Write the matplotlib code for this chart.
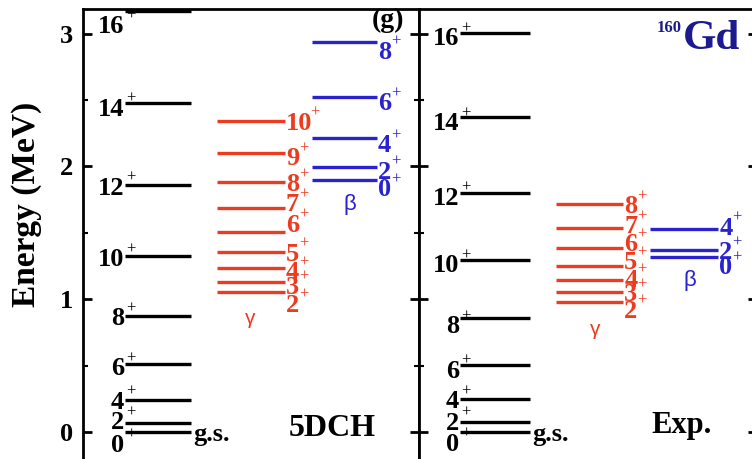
import matplotlib.pyplot as plt
from matplotlib.ticker import MultipleLocator

# level energies (MeV) for 160Gd: 5DCH calculation and experiment
gsb_spins = [0, 2, 4, 6, 8, 10, 12, 14, 16]
calc_gsb = [0.0, 0.071, 0.241, 0.51, 0.87, 1.322, 1.862, 2.48, 3.173]
exp_gsb = [0.0, 0.075, 0.245, 0.505, 0.862, 1.294, 1.80, 2.37, 3.003]

calc_gamma_spins = [2, 3, 4, 5, 6, 7, 8, 9, 10]
calc_gamma = [1.055, 1.131, 1.234, 1.357, 1.508, 1.684, 1.882, 2.098, 2.344]
exp_gamma_spins = [2, 3, 4, 5, 6, 7, 8]
exp_gamma = [0.98, 1.051, 1.146, 1.247, 1.382, 1.533, 1.716]

calc_beta_spins = [0, 2, 4, 6, 8]
calc_beta = [1.897, 1.997, 2.211, 2.52, 2.94]
exp_beta_spins = [0, 2, 4]
exp_beta = [1.315, 1.37, 1.528]

# vertical shift of each spin label (pixels) so crowded labels don't collide
calc_gsb_shift = [-11, 2, 0, -2, 0, -1, -1, -4, -13]
exp_gsb_shift = [-10, 1, 0, -4, -7, -3, -3, -4, -3]
calc_gamma_shift = [-11, -3, -2, 0, 9, 6, 0, -3, 0]
exp_gamma_shift = [-7, 0, 2, 6, 6, 4, 0]
calc_beta_shift = [-7, -3, -5, -4, -8]
exp_beta_shift = [-8, 0, 3.5]

RED = '#ec3b1f'
BLUE = '#2a22cf'
NAVY = '#1c1a8e'
PX = 0.72          # points per pixel at dpi 100
NUM_FS = 19
PLUS_FS = 12

plt.rcParams['font.family'] = 'Liberation Serif'
plt.rcParams['font.weight'] = 'bold'

W, H = 752, 459
fig = plt.figure(figsize=(W / 100, H / 100), dpi=100)
ax_calc = fig.add_axes([83 / W, 0.5 / H, 336 / W, 449.5 / H])
ax_exp = fig.add_axes([419 / W, 0.5 / H, 338 / W, 449.5 / H])

for ax in (ax_calc, ax_exp):
    ax.set_xlim(0, 1)
    ax.set_ylim(-0.2, 3.186)
    ax.set_xticks([])
    ax.yaxis.set_major_locator(MultipleLocator(1))
    ax.yaxis.set_minor_locator(MultipleLocator(0.5))
    ax.tick_params(axis='y', which='major', direction='in', length=6.5, width=2,
                   left=True, right=True, labelsize=19, pad=7)
    ax.tick_params(axis='y', which='minor', direction='in', length=3.5, width=1.5,
                   left=True, right=True)
    for sp in ax.spines.values():
        sp.set_linewidth(2)
    ax.spines['bottom'].set_linewidth(0.6)
    ax.spines['bottom'].set_color('#999999')
ax_exp.tick_params(axis='y', labelleft=False)
for lab in ax_calc.get_yticklabels():
    lab.set_fontweight('bold')


def label_levels(ax, spins, energies, x, side, shifts, color):
    digit_half = 0.676 * NUM_FS / PX / 2
    for j, e, dy in zip(spins, energies, shifts):
        num = str(j)
        if side == 'left':
            nx, ha = -1, 'right'
            px = 1
        else:
            nx, ha = 1, 'left'
            px = 2 + 11.8 * len(num)
        ax.annotate(num, (x, e), xytext=(nx * PX, (dy - digit_half) * PX),
                    textcoords='offset points', ha=ha, va='baseline',
                    fontsize=NUM_FS, color=color)
        ax.annotate('+', (x, e), xytext=(px * PX, (dy + 8 - 4.1) * PX),
                    textcoords='offset points', ha='left', va='baseline',
                    fontsize=PLUS_FS, fontweight='normal', color=color)


def draw_band(ax, spins, energies, x0, x1, side, shifts, color):
    ax.hlines(energies, x0, x1, colors=color, lw=2.4)
    label_levels(ax, spins, energies, x0 if side == 'left' else x1, side, shifts, color)


# 5DCH panel
draw_band(ax_calc, gsb_spins, calc_gsb, 0.125, 0.321, 'left', calc_gsb_shift, 'black')
draw_band(ax_calc, calc_gamma_spins, calc_gamma, 0.399, 0.601, 'right', calc_gamma_shift, RED)
draw_band(ax_calc, calc_beta_spins, calc_beta, 0.682, 0.875, 'right', calc_beta_shift, BLUE)

# experimental panel
draw_band(ax_exp, gsb_spins, exp_gsb, 0.121, 0.328, 'left', exp_gsb_shift, 'black')
draw_band(ax_exp, exp_gamma_spins, exp_gamma, 0.405, 0.604, 'right', exp_gamma_shift, RED)
draw_band(ax_exp, exp_beta_spins, exp_beta, 0.683, 0.885, 'right', exp_beta_shift, BLUE)

# band names and panel captions
greek = dict(family='Liberation Sans', fontweight='normal', ha='center', va='center')
ax_calc.text(0.497, 0.3125, 'γ', transform=ax_calc.transAxes, fontsize=15, color=RED, **greek)
ax_calc.text(0.795, 0.565, 'β', transform=ax_calc.transAxes, fontsize=16, color=BLUE, **greek)
ax_exp.text(0.521, 0.286, 'γ', transform=ax_exp.transAxes, fontsize=15, color=RED, **greek)
ax_exp.text(0.802, 0.395, 'β', transform=ax_exp.transAxes, fontsize=16, color=BLUE, **greek)

ax_calc.text(0.327, 0.040, 'g.s.', transform=ax_calc.transAxes, fontsize=19, va='baseline')
ax_exp.text(0.334, 0.040, 'g.s.', transform=ax_exp.transAxes, fontsize=19, va='baseline')
ax_calc.text(0.7426, 0.051, '5DCH', transform=ax_calc.transAxes, fontsize=23,
             ha='center', va='baseline')
ax_exp.text(0.778, 0.056, 'Exp.', transform=ax_exp.transAxes, fontsize=22,
            ha='center', va='baseline')
ax_calc.text(0.909, 0.975, '(g)', transform=ax_calc.transAxes, fontsize=20,
             ha='center', va='center')
ax_exp.text(0.950, 0.911, 'Gd', transform=ax_exp.transAxes, fontsize=31,
            ha='right', va='baseline', color=NAVY)
ax_exp.text(0.778, 0.975, '160', transform=ax_exp.transAxes, fontsize=12,
            ha='right', va='top', color=NAVY)

fig.text(27 / W, 1 - 204 / H, 'Energy (MeV)', rotation=90, ha='center', va='center',
         fontsize=24, fontweight='bold')

fig.savefig('out.png', dpi=100)
